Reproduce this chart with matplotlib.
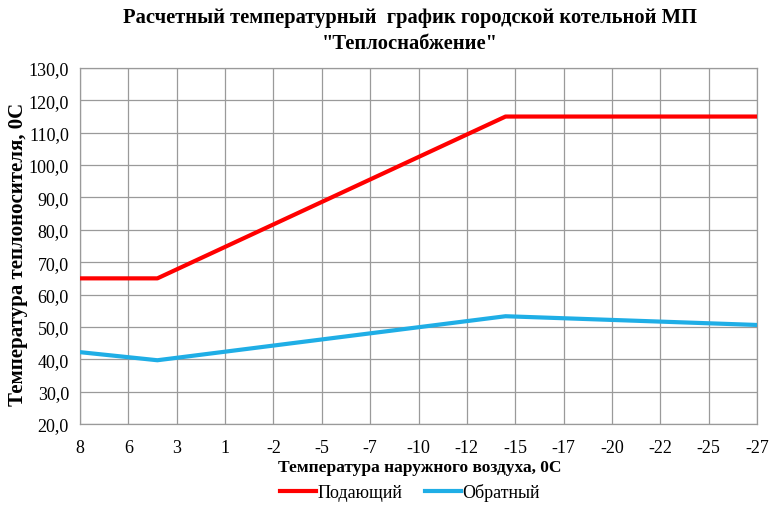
import numpy as np
import matplotlib
matplotlib.use("Agg")
import matplotlib.pyplot as plt

# Data
x_labels = ["8", "6", "3", "1", "-2", "-5", "-7", "-10", "-12", "-15", "-17", "-20", "-22", "-25", "-27"]
outdoor_temp = [8, 4, -14, -27]
supply = [65.0, 65.0, 115.0, 115.0]
ret = [42.2, 39.7, 53.3, 50.6]
y_ticks = [20, 30, 40, 50, 60, 70, 80, 90, 100, 110, 120, 130]

plt.rcParams['font.family'] = ['Liberation Serif', 'DejaVu Serif']

fig = plt.figure(figsize=(7.71, 5.10), dpi=100)
ax = fig.add_axes([80/771, 1-425/510, (757-80)/771, (425-69)/510])

ax.plot(outdoor_temp, supply, color='#FF0000', lw=3, label='Подающий', zorder=3)
ax.plot(outdoor_temp, ret, color='#1FAEE6', lw=3, label='Обратный', zorder=3)

xt = np.linspace(8, -27, len(x_labels))
ax.set_xlim(8, -27)
ax.set_xticks(xt)
ax.set_xticklabels(x_labels, fontsize=13)
ax.set_ylim(20, 130)
ax.set_yticks(y_ticks)
ax.set_yticklabels([f"{v:.1f}".replace('.', ',') for v in y_ticks], fontsize=13)
ax.tick_params(length=0, pad=8)
ax.tick_params(axis='x', pad=11)
ax.grid(True, color='#9a9a9a', lw=0.9)
ax.set_axisbelow(True)
for s in ax.spines.values():
    s.set_color('#9a9a9a')
    s.set_linewidth(0.9)

ax.set_xlabel('Температура наружного воздуха, 0С', fontsize=12.5, fontweight='bold')
ax.xaxis.set_label_coords((420-80)/677, (425-468)/356)
ax.xaxis.label.set_va('center')
ax.set_ylabel('Температура теплоносителя, 0С', fontsize=15, fontweight='bold')
ax.yaxis.set_label_coords((18-80)/677, (425-254)/356)
ax.yaxis.label.set_va('center')

fig.text(0.532, 0.985, 'Расчетный температурный  график городской котельной МП\n"Теплоснабжение"',
         ha='center', va='top', fontsize=14.8, fontweight='bold', linespacing=1.42)

fig.legend(loc='center', bbox_to_anchor=(410/771, 1-493/510), ncol=2, frameon=False,
           fontsize=13, handlelength=2.0, handletextpad=0.1, columnspacing=1.2)

fig.savefig('out.png', dpi=100)
